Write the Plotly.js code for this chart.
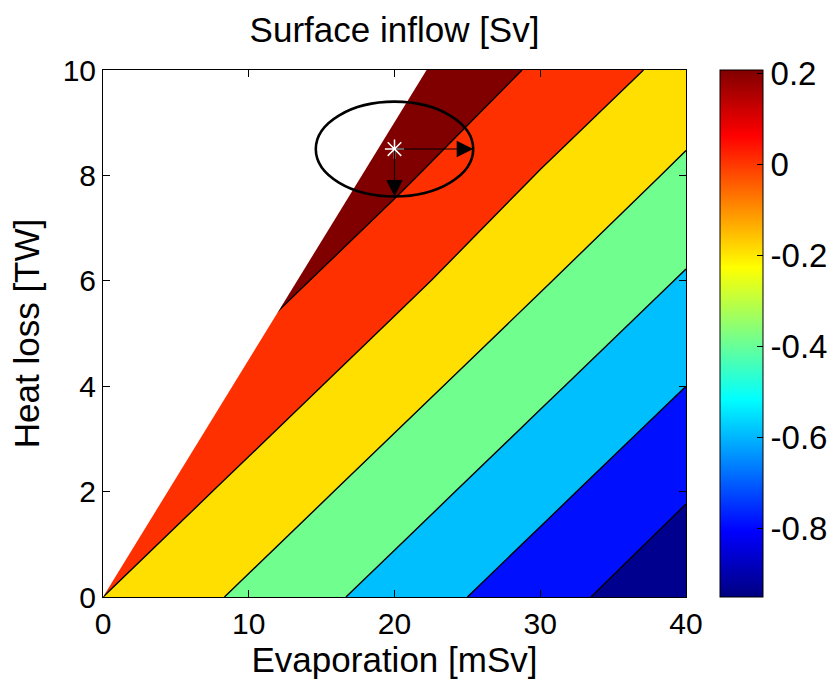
<!DOCTYPE html>
<html>
<head>
<meta charset="utf-8">
<script src="https://cdn.plot.ly/plotly-3.0.1.min.js"></script>
<style>html,body{margin:0;padding:0;background:#fff;}#chart{width:830px;height:681px;}</style>
</head>
<body>
<div id="chart"></div>
<script>
// Grid
const evaporation = [0, 10, 20, 30, 40];          // mSv
const heatLoss = [0, 2, 4, 6, 8, 10];              // TW
const inflow = [                                   // Sv, rows = heatLoss, cols = evaporation
  [0.00, -0.24, -0.48, -0.72, -0.95],
  [0.18, -0.06, -0.30, -0.54, -0.78],
  [0.36,  0.12, -0.12, -0.36, -0.60],
  [0.53,  0.30,  0.06, -0.18, -0.42],
  [0.71,  0.47,  0.24, -0.01, -0.24],
  [0.89,  0.65,  0.41,  0.17, -0.07]
];
// Region without a valid solution (blank in the figure)
const noSolutionE = [0, 22.2, 0, 0];
const noSolutionH = [0, 10, 10, 0];
// Reference point and its spread
const referenceE = [20];
const referenceH = [8.5];
const spreadE = 5.4;
const spreadH = 0.9;
// Contour levels and colour bar
const levelStart = -0.8, levelEnd = 0.2, levelStep = 0.2;
const colorMin = -0.95, colorMax = 0.207;
const cbTickVals = [-0.8, -0.6, -0.4, -0.2, 0, 0.2];
const cbTickText = ['-0.8', '-0.6', '-0.4', '-0.2', '0', '0.2'];
const xTickVals = [0, 10, 20, 30, 40];
const yTickVals = [0, 2, 4, 6, 8, 10];

// MATLAB jet colour map
const jet = [
  [0.0, 'rgb(0,0,128)'], [0.125, 'rgb(0,0,255)'], [0.375, 'rgb(0,255,255)'],
  [0.625, 'rgb(255,255,0)'], [0.875, 'rgb(255,0,0)'], [1.0, 'rgb(128,0,0)']
];
// band colours (jet at each band's lower level)
const bandColors = ['rgb(0,0,143)', 'rgb(0,16,255)', 'rgb(0,191,255)', 'rgb(112,255,143)',
                    'rgb(255,223,0)', 'rgb(255,48,0)', 'rgb(128,0,0)'];
const bandStops = [0, 1/12, 3/12, 5/12, 7/12, 9/12, 11/12, 1];
const bandScale = [];
for (let i = 0; i < bandColors.length; i++) {
  bandScale.push([bandStops[i], bandColors[i]]);
  bandScale.push([bandStops[i + 1], bandColors[i]]);
}

const FONT = '"Liberation Sans", Arial, Helvetica, sans-serif';

const traces = [
  {
    type: 'heatmap', x: evaporation, y: heatLoss, z: inflow,
    colorscale: jet, zmin: colorMin, zmax: colorMax, zsmooth: 'best',
    hoverinfo: 'skip', showscale: true,
    colorbar: {
      x: 1.058, xanchor: 'left', xpad: 0, y: 0.5, yanchor: 'middle', ypad: 0,
      len: 1, lenmode: 'fraction', thickness: 43, thicknessmode: 'pixels',
      outlinewidth: 1, outlinecolor: '#000',
      tickmode: 'array', tickvals: cbTickVals, ticktext: cbTickText,
      ticks: 'inside', ticklen: 6, tickcolor: '#000', tickwidth: 1,
      tickfont: {family: FONT, size: 33, color: '#000'}
    }
  },
  {
    type: 'contour', x: evaporation, y: heatLoss, z: inflow,
    autocontour: false,
    contours: {start: levelStart, end: levelEnd, size: levelStep, coloring: 'fill', showlines: true},
    colorscale: bandScale, showscale: false,
    line: {color: '#000', width: 1.4, smoothing: 0},
    hoverinfo: 'skip'
  },
  {
    type: 'scatter', mode: 'lines', x: noSolutionE, y: noSolutionH,
    fill: 'toself', fillcolor: '#ffffff', line: {width: 0, color: 'rgba(0,0,0,0)'},
    hoverinfo: 'skip', showlegend: false
  },
  {
    type: 'scatter', mode: 'markers', x: referenceE, y: referenceH,
    marker: {symbol: 'asterisk-open', size: 16, color: '#ffffff', line: {color: '#ffffff', width: 1.5}},
    hoverinfo: 'skip', showlegend: false
  }
];

const axisCommon = {
  showline: true, linecolor: '#000', linewidth: 1, mirror: 'ticks',
  ticks: 'inside', ticklen: 7, tickcolor: '#000', tickwidth: 1,
  showgrid: false, zeroline: false, tickmode: 'array',
  tickfont: {family: FONT, size: 30, color: '#000'}
};

const layout = {
  width: 830, height: 681,
  margin: {l: 103, r: 144, t: 70, b: 84, pad: 0, autoexpand: false},
  paper_bgcolor: '#fff', plot_bgcolor: '#fff',
  font: {family: FONT, color: '#000'},
  showlegend: false,
  title: {text: 'Surface inflow [Sv]', font: {family: FONT, size: 35, color: '#000'},
          x: 0.5, xref: 'paper', xanchor: 'center', y: 0.956, yref: 'container', yanchor: 'middle'},
  xaxis: Object.assign({}, axisCommon, {
    range: [0, 40], tickvals: xTickVals, automargin: false,
    title: {text: 'Evaporation [mSv]', font: {family: FONT, size: 35, color: '#000'}, standoff: 2}
  }),
  yaxis: Object.assign({}, axisCommon, {
    range: [0, 10], tickvals: yTickVals, automargin: false,
    title: {text: 'Heat loss [TW]', font: {family: FONT, size: 35, color: '#000'}, standoff: 12}
  }),
  shapes: [{
    type: 'circle', xref: 'x', yref: 'y', layer: 'above',
    x0: referenceE[0] - spreadE, x1: referenceE[0] + spreadE,
    y0: referenceH[0] - spreadH, y1: referenceH[0] + spreadH,
    line: {color: '#000', width: 2.6}
  }],
  annotations: [
    {x: referenceE[0] + spreadE, y: referenceH[0], ax: referenceE[0], ay: referenceH[0],
     xref: 'x', yref: 'y', axref: 'x', ayref: 'y', text: '', showarrow: true,
     arrowhead: 2, arrowsize: 3, arrowwidth: 1.1, arrowcolor: '#000', standoff: 0, startstandoff: 0},
    {x: referenceE[0], y: referenceH[0] - spreadH, ax: referenceE[0], ay: referenceH[0],
     xref: 'x', yref: 'y', axref: 'x', ayref: 'y', text: '', showarrow: true,
     arrowhead: 2, arrowsize: 3, arrowwidth: 1.1, arrowcolor: '#000', standoff: 0, startstandoff: 0}
  ]
};

Plotly.newPlot('chart', traces, layout, {displayModeBar: false, staticPlot: true});
</script>
</body>
</html>
